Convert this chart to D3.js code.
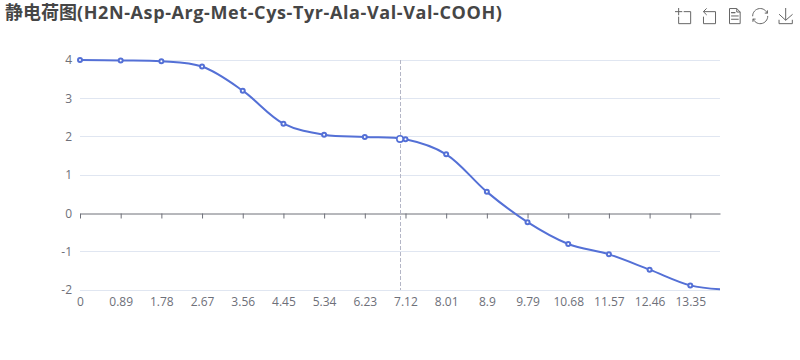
<!DOCTYPE html>
<html>
<head>
<meta charset="utf-8">
<script src="https://cdn.jsdelivr.net/npm/d3@7"></script>
<style>
  html, body { margin: 0; background: #fff; }
  svg { display: block; }
  text { font-family: "Open Sans", "Noto Sans CJK SC", sans-serif; }
</style>
</head>
<body>
<div id="chart"></div>
<script>
const titleHan = "静电荷图";
const titleLatin = "(H2N-Asp-Arg-Met-Cys-Tyr-Ala-Val-Val-COOH)";

const phValues = [0, 0.89, 1.78, 2.67, 3.56, 4.45, 5.34, 6.23, 7.12, 8.01, 8.9, 9.79, 10.68, 11.57, 12.46, 13.35, 14];
const chargeValues = [4.0, 3.99, 3.97, 3.83, 3.2, 2.34, 2.05, 1.99, 1.93, 1.54, 0.56, -0.23, -0.8, -1.07, -1.47, -1.88, -1.98];
const xTicks = [0, 0.89, 1.78, 2.67, 3.56, 4.45, 5.34, 6.23, 7.12, 8.01, 8.9, 9.79, 10.68, 11.57, 12.46, 13.35];
const yTicks = [-2, -1, 0, 1, 2, 3, 4];
const hoverPh = 7;
const hoverCharge = 1.94;

// echarts toolbox glyphs, 60 unit box
const toolIcons = [
  "M0,13.5h26.9 M13.5,26.9V0 M32.1,13.5H58V58H13.5 V32.1",
  "M22,1.4L9.9,13.5l12.3,12.3 M10.3,13.5H54.9v44.6 H10.3v-26",
  "M17.5,17.3H33 M17.5,17.3H33 M45.4,29.5h-28 M11.5,2v56H51V14.8L38.4,2H11.5z M38.4,2.2v12.7H51 M45.4,41.7h-28",
  "M3.8,33.4 M47,18.9h9.8V8.7 M56.3,20.1 C52.1,9,40.5,0.6,26.8,2.1C12.6,3.7,1.6,16.2,2.1,30.6 M13,41.1H3.1v10.2 M3.7,39.9c4.2,11.1,15.8,19.5,29.5,18 c14.2-1.6,25.2-14.1,24.7-28.5",
  "M4.7,22.9L29.3,45.5L54.7,23.4M4.6,43.6L4.6,58L53.8,58L53.8,43.6M29.2,45.1L29.2,0"
];

const outerWidth = 800, outerHeight = 360;
const margin = {top: 60, right: 80, bottom: 70, left: 80};
const lineColor = "#5470d6", axisColor = "#6E7079", gridColor = "#E0E6F1";

const svg = d3.select("#chart").append("svg")
  .attr("width", outerWidth)
  .attr("height", outerHeight);

const x = d3.scaleLinear().domain([0, 14]).range([margin.left, outerWidth - margin.right]);
const y = d3.scaleLinear().domain([-2, 4]).range([outerHeight - margin.bottom, margin.top]);

const title = svg.append("text")
  .attr("x", 5)
  .attr("y", 19)
  .attr("fill", "#464646")
  .style("font-size", "18px")
  .style("font-weight", "bold");
title.append("tspan").text(titleHan);
title.append("tspan").style("letter-spacing", "0.6px").text(titleLatin);

// toolbox
svg.append("g").selectAll("path")
  .data(toolIcons)
  .join("path")
  .attr("d", d => d)
  .attr("transform", (d, i) => `translate(${675 + i * 25.7},8) scale(0.27)`)
  .attr("fill", "none")
  .attr("stroke", "#666")
  .attr("stroke-width", 1 / 0.27);

// grid + y labels
const yAxis = svg.append("g")
  .attr("transform", `translate(${margin.left},0)`)
  .call(d3.axisLeft(y).tickValues(yTicks).tickSize(0).tickPadding(8).tickFormat(d => String(d)));
yAxis.select(".domain").remove();
yAxis.selectAll("text").attr("fill", axisColor).style("font-size", "12px");

svg.append("g").selectAll("line")
  .data(yTicks.filter(d => d !== 0))
  .join("line")
  .attr("x1", margin.left)
  .attr("x2", outerWidth - margin.right)
  .attr("y1", d => Math.floor(y(d)) + 0.5)
  .attr("y2", d => Math.floor(y(d)) + 0.5)
  .attr("stroke", gridColor);

// x axis sits on zero, its labels stay at the bottom
const xAxis = svg.append("g")
  .attr("transform", `translate(0,${Math.floor(y(0)) + 0.5})`)
  .call(d3.axisBottom(x).tickValues(xTicks).tickSize(5).tickSizeOuter(0).tickFormat(""));
xAxis.selectAll("path, line").attr("stroke", axisColor);

const xLabels = svg.append("g")
  .attr("transform", `translate(0,${y(-2)})`)
  .call(d3.axisBottom(x).tickValues(xTicks).tickSize(0).tickPadding(7).tickFormat(d => d));
xLabels.select(".domain").remove();
xLabels.selectAll("text").attr("fill", axisColor).style("font-size", "12px");

// axis pointer
svg.append("line")
  .attr("x1", Math.floor(x(hoverPh)) + 0.5)
  .attr("x2", Math.floor(x(hoverPh)) + 0.5)
  .attr("y1", y(4))
  .attr("y2", y(-2))
  .attr("stroke", "#B4B6C6")
  .attr("stroke-dasharray", "4,2");

const line = d3.line()
  .x((d, i) => x(phValues[i]))
  .y(d => y(d))
  .curve(d3.curveCatmullRom.alpha(0.5));

svg.append("path")
  .datum(chargeValues)
  .attr("d", line)
  .attr("fill", "none")
  .attr("stroke", lineColor)
  .attr("stroke-width", 2);

// the last value closes the line and has no symbol
svg.append("g").selectAll("circle")
  .data(chargeValues.slice(0, -1))
  .join("circle")
  .attr("cx", (d, i) => x(phValues[i]))
  .attr("cy", d => y(d))
  .attr("r", 2)
  .attr("fill", "#fff")
  .attr("stroke", lineColor)
  .attr("stroke-width", 2);

svg.append("circle")
  .attr("cx", x(hoverPh))
  .attr("cy", y(hoverCharge))
  .attr("r", 3.2)
  .attr("fill", "#fff")
  .attr("stroke", lineColor)
  .attr("stroke-width", 1.6);
</script>
</body>
</html>
